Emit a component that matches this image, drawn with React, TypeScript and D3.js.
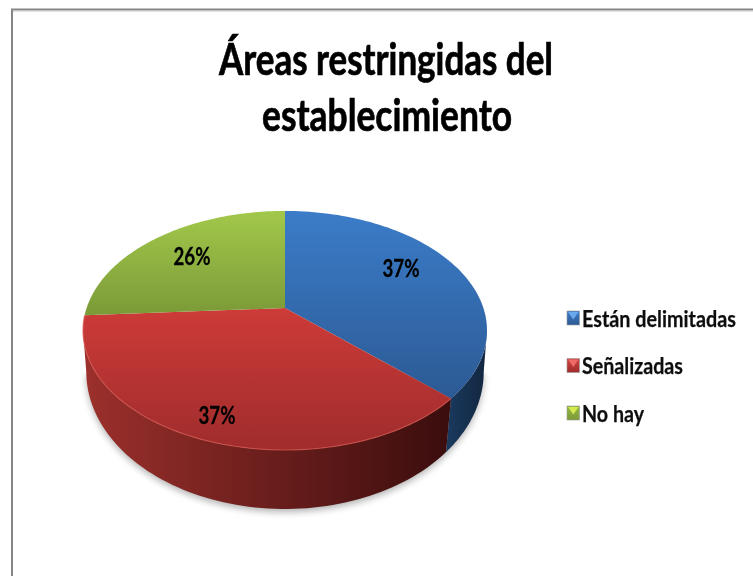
import React from "react";
import * as d3 from "d3";

const categories = ["Están delimitadas", "Señalizadas", "No hay"];
const values = [37, 37, 26];
const titleLines = ["Áreas restringidas del", "establecimiento"];
const topGrad = [["#3b7cc9", "#2c5a94"], ["#cd3b38", "#9f2c2c"], ["#a2c84a", "#7b9a38"]];
const wallGrad = [["#1a3a5e", "#12263f"], ["#9c302c", "#3a0d0d"], ["#5a7020", "#3a4a15"]];
const swatchGrad = [["#3f7cc8", "#2c5a94"], ["#cf4541", "#9f2c2c"], ["#93b840", "#7b9a38"]];
const swatchGlow = ["#6aa8ee", "#ee6a66", "#d4ea50"];

const TOP = { a: 198.4, b: 115.3, k: 0.188, cx: 285, cy: 308 };
const BOT = { a: 196, b: 133.6, k: 0.165, cx: 285, cy: 349 };
type P = typeof TOP;
const proj = (p: P, t: number): [number, number] => {
  const u = Math.sin(t), v = -Math.cos(t), d = 1 - p.k * v;
  return [p.cx + (p.a * u) / d, p.cy + (p.b * v) / d];
};
const arcPts = (p: P, t0: number, t1: number) =>
  d3.range(0, 81).map((i) => proj(p, t0 + ((t1 - t0) * i) / 80));
const line = d3.line();
const rightOf = (p: P) => Math.PI * 0.5 + Math.asin(p.k);
const leftOf = (p: P) => Math.PI * 1.5 - Math.asin(p.k);

export default function App() {
  const arcs = d3.pie<number>().sort(null)(values);
  const labelPos: [number, number][] = [[401, 267], [217, 414], [192, 255]];
  const legendY = d3.scalePoint<string>().domain(categories).range([318, 413]);
  const blue = arcs[0], red = arcs[1];
  const bluePts = [...arcPts(TOP, rightOf(TOP), blue.endAngle), ...arcPts(BOT, blue.endAngle, rightOf(BOT))];
  const redPts = [...arcPts(TOP, red.startAngle, leftOf(TOP)), ...arcPts(BOT, leftOf(BOT), red.startAngle)];
  const shadow = { ...BOT, cy: BOT.cy + 3 };

  return (
    <svg width={753} height={576} style={{ position: "absolute", left: 0, top: 0, background: "#fff" }}>
      <defs>
        <filter id="sh" x="-20%" y="-20%" width="140%" height="140%"><feGaussianBlur stdDeviation="3.5" /></filter>
        <filter id="soft" x="-5%" y="-5%" width="110%" height="110%"><feGaussianBlur stdDeviation="0.6" /></filter>
        {arcs.map((_, i) => (
          <linearGradient key={i} id={`t${i}`} x1="0" y1="0" x2="0" y2="1">
            <stop offset="0" stopColor={topGrad[i][0]} />
            <stop offset="1" stopColor={topGrad[i][1]} />
          </linearGradient>
        ))}
        {arcs.map((_, i) => (
          <linearGradient key={i} id={`w${i}`} x1="0" y1="0" x2="1" y2="0">
            <stop offset="0" stopColor={wallGrad[i][0]} />
            <stop offset="1" stopColor={wallGrad[i][1]} />
          </linearGradient>
        ))}
        {arcs.map((_, i) => (
          <linearGradient key={i} id={`s${i}`} x1="0" y1="0" x2="0" y2="1">
            <stop offset="0" stopColor={swatchGrad[i][0]} />
            <stop offset="1" stopColor={swatchGrad[i][1]} />
          </linearGradient>
        ))}
      </defs>

      <path d="M12 576V9.5H753" fill="none" stroke="#858585" strokeWidth={2} />
      <path d="M13 11H753" fill="none" stroke="#c4c4c4" strokeWidth={1} />

      <g fontFamily="Lato, sans-serif" fontWeight={700} fontSize={44} textAnchor="middle" fill="#000" stroke="#000" strokeWidth={0.7} filter="url(#soft)">
        <text x={386} y={75} textLength={334} lengthAdjust="spacingAndGlyphs">{titleLines[0]}</text>
        <text x={387} y={131} textLength={250} lengthAdjust="spacingAndGlyphs">{titleLines[1]}</text>
      </g>

      <path d={line(arcPts(shadow, rightOf(BOT), leftOf(BOT))) + "Z"} fill="#000" opacity={0.3} filter="url(#sh)" />
      <path d={line(bluePts) + "Z"} fill="url(#w0)" />
      <path d={line(redPts) + "Z"} fill="url(#w1)" />

      {arcs.map((a, i) => (
        <path
          key={i}
          d={`M${TOP.cx} ${TOP.cy}L` + line(arcPts(TOP, a.startAngle, a.endAngle))!.slice(1) + "Z"}
          fill={`url(#t${i})`}
        />
      ))}
      <path d={line(arcPts(TOP, red.startAngle, red.endAngle))!} fill="none" stroke="#d9554f" strokeWidth={1.2} opacity={0.7} />

      <g fontFamily="Lato, sans-serif" fontWeight={700} fontSize={24} textAnchor="middle" fill="#000" stroke="#000" strokeWidth={0.3} filter="url(#soft)">
        {arcs.map((a, i) => (
          <text key={i} x={labelPos[i][0]} y={labelPos[i][1]} dominantBaseline="central" textLength={37} lengthAdjust="spacingAndGlyphs">
            {`${Math.round(a.value)}%`}
          </text>
        ))}
      </g>

      {categories.map((c, i) => {
        const y = legendY(c)!;
        return (
          <g key={c}>
            <rect x={567} y={y - 7} width={12.5} height={14} fill={`url(#s${i})`} stroke="#9a9a9a" strokeWidth={0.6} />
            <path d={`M568 ${y - 6}h10.5l-5.2 7.5Z`} fill={swatchGlow[i]} />
            <text x={582} y={y} dominantBaseline="central" fontFamily="Lato, sans-serif" fontWeight={700} fontSize={22} fill="#111"
              stroke="#111" strokeWidth={0.25} filter="url(#soft)"
              textLength={[154, 101, 62][i]} lengthAdjust="spacingAndGlyphs">{c}</text>
          </g>
        );
      })}
    </svg>
  );
}
